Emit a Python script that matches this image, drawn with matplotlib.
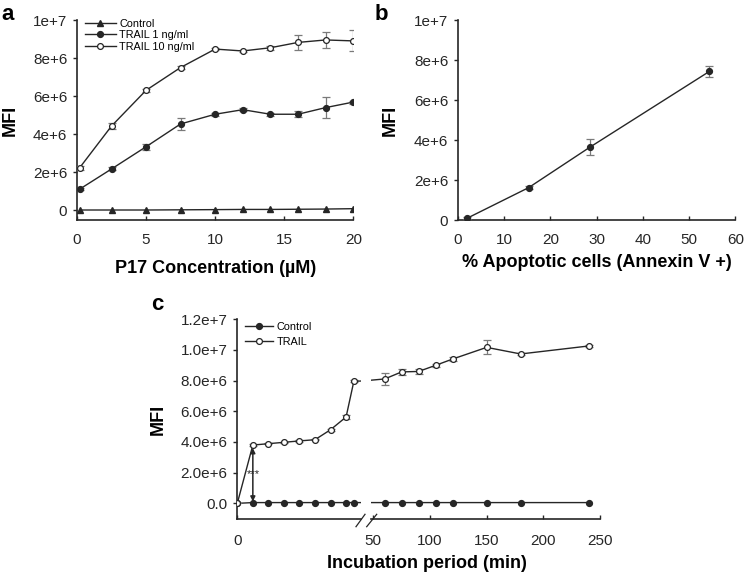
import matplotlib
matplotlib.use('Agg')
import matplotlib.pyplot as plt
from matplotlib.lines import Line2D

plt.rcParams['font.family'] = ['Liberation Sans', 'DejaVu Sans']

# ---------------- data ----------------
# panel a
conc = [0.2, 2.5, 5, 7.5, 10, 12, 14, 16, 18, 20]
ctrl_a = [0.0, 0.0, 0.0, 0.01e6, 0.02e6, 0.03e6, 0.03e6, 0.04e6, 0.05e6, 0.07e6]
trail1_a = [1.10e6, 2.16e6, 3.33e6, 4.53e6, 5.04e6, 5.28e6, 5.04e6, 5.04e6, 5.39e6, 5.68e6]
trail1_err = [0.05e6, 0.08e6, 0.15e6, 0.30e6, 0.08e6, 0.08e6, 0.08e6, 0.15e6, 0.55e6, 0.08e6]
trail10_a = [2.23e6, 4.42e6, 6.30e6, 7.50e6, 8.47e6, 8.37e6, 8.54e6, 8.82e6, 8.95e6, 8.90e6]
trail10_err = [0.10e6, 0.15e6, 0.08e6, 0.08e6, 0.05e6, 0.05e6, 0.10e6, 0.40e6, 0.42e6, 0.55e6]
xticks_a = [0, 5, 10, 15, 20]
yticks_ab = [0, 2e6, 4e6, 6e6, 8e6, 1e7]
ylabels_ab = ['0', '2e+6', '4e+6', '6e+6', '8e+6', '1e+7']

# panel b
apopt = [1.9, 15.3, 28.6, 54.4]
mfi_b = [0.08e6, 1.62e6, 3.65e6, 7.43e6]
mfi_b_err = [0.05e6, 0.08e6, 0.42e6, 0.28e6]
xticks_b = [0, 10, 20, 30, 40, 50, 60]

# panel c
time_c = [0, 5, 10, 15, 20, 25, 30, 35, 37.5, 60, 75, 90, 105, 120, 150, 180, 240]
ctrl_c = [0.0, 0.05e6, 0.05e6, 0.05e6, 0.05e6, 0.05e6, 0.05e6, 0.05e6, 0.05e6,
          0.05e6, 0.05e6, 0.05e6, 0.05e6, 0.05e6, 0.05e6, 0.05e6, 0.05e6]
trail_c = [0.0, 3.80e6, 3.89e6, 3.98e6, 4.07e6, 4.15e6, 4.80e6, 5.63e6, 7.96e6,
           8.11e6, 8.57e6, 8.60e6, 9.00e6, 9.41e6, 10.17e6, 9.74e6, 10.26e6]
trail_c_err = [0.0, 0.05e6, 0.05e6, 0.05e6, 0.05e6, 0.05e6, 0.08e6, 0.10e6, 0.05e6,
               0.38e6, 0.20e6, 0.15e6, 0.08e6, 0.10e6, 0.45e6, 0.05e6, 0.05e6]
yticks_c = [0, 2e6, 4e6, 6e6, 8e6, 1e7, 1.2e7]
ylabels_c = ['0.0', '2.0e+6', '4.0e+6', '6.0e+6', '8.0e+6', '1.0e+7', '1.2e+7']
xticks_c_right = [50, 100, 150, 200, 250]

# ---------------- style ----------------
W, H = 744, 580
LC = '#262626'
EC = '#7a7a7a'
TICK_FS = 11
LAB_FS = 13
LET_FS = 16
MS = 4.2
LW = 1.0


def px_axes(l, r, t, b):
    return [l / W, 1 - b / H, (r - l) / W, (b - t) / H]


def style(ax, left=True, xpad=9.5):
    for s in ['top', 'right']:
        ax.spines[s].set_visible(False)
    for s in ['left', 'bottom']:
        ax.spines[s].set_linewidth(1.2)
        ax.spines[s].set_color(LC)
    ax.tick_params(axis='y', direction='out', length=3, width=1, pad=4,
                   labelsize=TICK_FS, colors=LC)
    ax.tick_params(axis='x', direction='in', length=3, width=1, pad=xpad,
                   labelsize=TICK_FS, colors=LC)
    if not left:
        ax.spines['left'].set_visible(False)
        ax.tick_params(axis='y', left=False, labelleft=False)


fig = plt.figure(figsize=(W / 100, H / 100), dpi=100)

# ---------------- panel a ----------------
axa = fig.add_axes(px_axes(77, 353.3, 20, 220))
style(axa)
h_ctrl, = axa.plot(conc, ctrl_a, color=LC, lw=LW, marker='^', ms=MS, mfc=LC, mec=LC,
                   zorder=3)
axa.errorbar(conc, trail1_a, yerr=trail1_err, color=LC, lw=LW, marker='o', ms=MS,
             mfc=LC, mec=LC, ecolor=EC, elinewidth=0.9, capsize=3, capthick=0.9,
             zorder=3)
axa.errorbar(conc, trail10_a, yerr=trail10_err, color=LC, lw=LW, marker='o',
             ms=MS, mfc='white', mec=LC, mew=0.9, ecolor=EC, elinewidth=0.9,
             capsize=3, capthick=0.9, zorder=3)
axa.set_xlim(0, 20)
axa.set_ylim(-0.526e6, 1e7)
axa.set_xticks(xticks_a)
axa.set_yticks(yticks_ab)
axa.set_yticklabels(ylabels_ab)
axa.set_ylabel('MFI', fontsize=LAB_FS, fontweight='bold')
axa.yaxis.set_label_coords(-0.21, 0.5)
axa.set_xlabel('P17 Concentration (\u00b5M)', fontsize=LAB_FS, fontweight='bold')
axa.xaxis.set_label_coords(0.5, -0.2)
legA_h = [h_ctrl,
          Line2D([], [], color=LC, lw=LW, marker='o', ms=MS, mfc=LC, mec=LC),
          Line2D([], [], color=LC, lw=LW, marker='o', ms=MS, mfc='white', mec=LC, mew=0.9)]
axa.legend(legA_h, ['Control', 'TRAIL 1 ng/ml', 'TRAIL 10 ng/ml'], loc='upper left',
           bbox_to_anchor=(0.0, 1.045), frameon=False, fontsize=7.8,
           handlelength=2.9, handletextpad=0.3, labelspacing=0.15, borderaxespad=0.3)
fig.text(1 / W, 1 - 20 / H, 'a', fontsize=LET_FS, fontweight='bold', va='baseline')

# ---------------- panel b ----------------
axb = fig.add_axes(px_axes(458, 735.3, 20, 220))
style(axb)
axb.errorbar(apopt, mfi_b, yerr=mfi_b_err, color=LC, lw=LW, marker='o', ms=MS,
             mfc=LC, mec=LC, ecolor=EC, elinewidth=0.9, capsize=3, capthick=0.9,
             zorder=3)
axb.set_xlim(0, 60)
axb.set_ylim(0, 1e7)
axb.set_xticks(xticks_b)
axb.set_yticks(yticks_ab)
axb.set_yticklabels(ylabels_ab)
axb.set_ylabel('MFI', fontsize=LAB_FS, fontweight='bold')
axb.yaxis.set_label_coords(-0.213, 0.5)
axb.set_xlabel('% Apoptotic cells (Annexin V +)', fontsize=LAB_FS, fontweight='bold')
axb.xaxis.set_label_coords(0.5, -0.17)
fig.text(375 / W, 1 - 20 / H, 'b', fontsize=LET_FS, fontweight='bold', va='baseline')

# ---------------- panel c (broken x axis) ----------------
axL = fig.add_axes(px_axes(237.3, 361, 319.3, 519.3))
axR = fig.add_axes(px_axes(371, 600, 319.3, 519.3))
style(axL, xpad=10.5)
style(axR, left=False, xpad=10.5)
for ax in (axL, axR):
    ax.plot(time_c, ctrl_c, color=LC, lw=LW, marker='o', ms=MS, mfc=LC, mec=LC,
            zorder=3)
    ax.errorbar(time_c, trail_c, yerr=trail_c_err, color=LC, lw=LW, marker='o', ms=MS,
                mfc='white', mec=LC, mew=0.9, ecolor=EC, elinewidth=0.9, capsize=3,
                capthick=0.9, zorder=4)
    ax.set_ylim(-1.04e6, 1.2e7)
axL.set_xlim(0, 39.8)
axR.set_xlim(47.97, 250)
axL.set_xticks([0])
axR.set_xticks(xticks_c_right)
axL.set_yticks(yticks_c)
axL.set_yticklabels(ylabels_c)
axL.set_ylabel('MFI', fontsize=LAB_FS, fontweight='bold')
axL.yaxis.set_label_coords(-0.568, 0.5)
legC_h = [Line2D([], [], color=LC, lw=LW, marker='o', ms=MS, mfc=LC, mec=LC),
          Line2D([], [], color=LC, lw=LW, marker='o', ms=MS, mfc='white', mec=LC, mew=0.9)]
axL.legend(legC_h, ['Control', 'TRAIL'], loc='upper left', bbox_to_anchor=(0.0, 1.025),
           frameon=False, fontsize=7.8, handlelength=2.6, handletextpad=0.3,
           labelspacing=0.45, borderaxespad=0.3)

# significance arrow
axL.annotate('', xy=(5, 0.12e6), xytext=(5, 3.6e6),
             arrowprops=dict(arrowstyle='<|-|>', color=LC, lw=1.1,
                             mutation_scale=7, shrinkA=0, shrinkB=0))
axL.text(5.2, 1.9e6, '***', fontsize=8, ha='center', va='center', color=LC)

# break marks
for x0, x1 in [(356, 365), (366.7, 376.7)]:
    fig.add_artist(Line2D([x0 / W, x1 / W], [1 - 526.7 / H, 1 - 514.3 / H],
                          color=LC, lw=0.9))

fig.text(427 / W, 1 - 563 / H, 'Incubation period (min)', fontsize=LAB_FS,
         fontweight='bold', ha='center', va='center')
fig.text(151 / W, 1 - 310 / H, 'c', fontsize=LET_FS, fontweight='bold', va='baseline')

fig.savefig('out.png', dpi=100)
